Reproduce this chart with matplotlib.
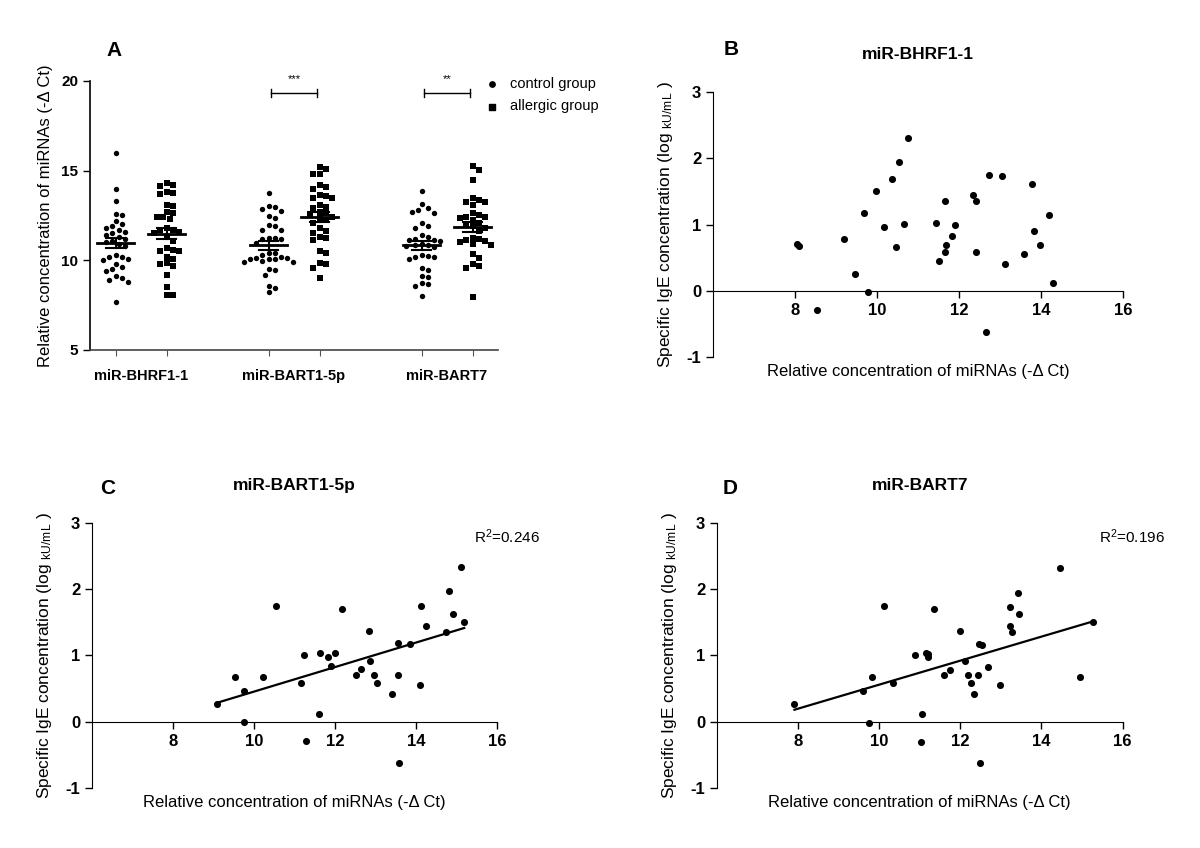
import numpy as np
import matplotlib
matplotlib.use('agg')
import matplotlib.pyplot as plt

plt.rcParams['font.family'] = ['Liberation Sans', 'DejaVu Sans']
plt.rcParams['mathtext.default'] = 'regular'
plt.rcParams['axes.unicode_minus'] = False

# ---- panel A: -dCt per group ----
groups = ['miR-BHRF1-1', 'miR-BART1-5p', 'miR-BART7']
ctrl_bhrf = [16.0, 14.0, 13.3, 12.6, 12.5, 12.2, 12.0, 11.9, 11.8, 11.7, 11.6, 11.5, 11.4, 11.3,
             11.2, 11.1, 11.0, 10.9, 10.8, 10.3, 10.2, 10.2, 10.1, 10.0, 9.8, 9.6, 9.5, 9.4,
             9.1, 9.0, 8.9, 8.8, 7.7]
allg_bhrf = [14.3, 14.2, 14.15, 13.8, 13.75, 13.7, 13.1, 13.05, 12.7, 12.65, 12.4, 12.4, 12.3,
             11.8, 11.7, 11.7, 11.6, 11.5, 11.3, 11.1, 10.7, 10.6, 10.5, 10.5, 10.2, 10.1,
             9.85, 9.8, 9.7, 9.2, 8.5, 8.05, 8.05]
ctrl_bart1 = [13.77, 12.99, 12.75, 12.88, 13.03, 12.47, 12.36, 11.91, 11.69, 11.71, 11.99, 11.26,
              11.17, 11.19, 11.22, 10.98, 10.43, 10.31, 10.43, 10.15, 10.09, 10.05, 10.15, 10.2,
              10.05, 9.91, 9.91, 9.94, 9.46, 9.49, 9.2, 8.59, 8.46, 8.21]
allg_bart1 = [15.19, 15.1, 14.82, 14.79, 14.18, 14.09, 14.0, 13.63, 13.57, 13.5, 13.45, 13.08,
              12.99, 12.9, 12.71, 12.62, 12.6, 12.44, 12.34, 12.25, 12.07, 11.79, 11.61, 11.52,
              11.3, 11.24, 11.15, 10.51, 10.42, 9.87, 9.77, 9.59, 9.04]
ctrl_bart7 = [13.87, 12.94, 13.12, 12.69, 12.66, 12.81, 12.06, 11.8, 11.93, 11.39, 11.32, 11.13,
              11.06, 11.13, 11.21, 10.8, 10.85, 10.76, 10.85, 10.89, 10.24, 10.17, 10.05, 10.3,
              10.17, 9.55, 9.46, 9.09, 9.14, 8.66, 8.57, 8.73, 8.01]
allg_bart7 = [15.28, 15.01, 14.46, 13.45, 13.35, 13.26, 13.23, 13.08, 12.62, 12.53, 12.44, 12.4,
              12.34, 12.25, 12.07, 11.98, 11.89, 11.79, 11.61, 11.24, 11.2, 11.15, 11.06, 11.0,
              10.9, 10.88, 10.33, 10.14, 9.77, 9.68, 9.55, 7.94]
sig_marks = ['', '***', '**']

# ---- panels B-D: -dCt vs log IgE ----
bhrf_x = [8.04, 8.10, 8.54, 9.20, 9.45, 9.67, 9.79, 9.98, 10.16, 10.36, 10.47, 10.54, 10.66, 10.75,
          11.43, 11.51, 11.65, 11.66, 11.67, 11.83, 11.89, 12.33, 12.41, 12.41, 12.65, 12.74,
          13.05, 13.11, 13.58, 13.78, 13.82, 13.98, 14.19, 14.29]
bhrf_y = [0.70, 0.67, -0.29, 0.78, 0.26, 1.18, -0.02, 1.50, 0.96, 1.69, 0.66, 1.95, 1.01, 2.31,
          1.02, 0.45, 1.35, 0.58, 0.69, 0.83, 1.00, 1.44, 1.36, 0.58, -0.63, 1.74,
          1.73, 0.41, 0.55, 1.61, 0.90, 0.69, 1.15, 0.11]
bart1_x = [9.08, 9.54, 9.76, 9.76, 10.21, 10.55, 11.17, 11.23, 11.29, 11.61, 11.63, 11.83, 11.89,
           12.00, 12.17, 12.51, 12.63, 12.83, 12.87, 12.96, 13.04, 13.40, 13.55, 13.55, 13.59,
           13.86, 14.09, 14.13, 14.24, 14.74, 14.81, 14.91, 15.12, 15.19]
bart1_y = [0.27, 0.67, 0.47, -0.01, 0.67, 1.75, 0.59, 1.01, -0.29, 0.12, 1.04, 0.97, 0.84,
           1.03, 1.70, 0.71, 0.79, 1.37, 0.91, 0.70, 0.59, 0.42, 0.70, 1.19, -0.62,
           1.17, 0.56, 1.75, 1.45, 1.36, 1.97, 1.63, 2.33, 1.51]
bart7_x = [7.91, 9.59, 9.75, 9.81, 10.12, 10.35, 10.88, 11.03, 11.06, 11.16, 11.19, 11.20, 11.36,
           11.59, 11.75, 12.00, 12.12, 12.18, 12.27, 12.33, 12.43, 12.46, 12.48, 12.54, 12.68,
           12.98, 13.23, 13.23, 13.27, 13.42, 13.44, 14.45, 14.96, 15.26]
bart7_y = [0.26, 0.46, -0.02, 0.67, 1.74, 0.58, 1.00, -0.30, 0.12, 1.03, 0.97, 1.02, 1.70,
           0.70, 0.78, 1.37, 0.91, 0.70, 0.58, 0.42, 0.70, 1.18, -0.63, 1.16, 0.83,
           0.55, 1.73, 1.45, 1.35, 1.95, 1.62, 2.32, 0.67, 1.50]
r2_text = {'C': '0.246', 'D': '0.196'}

xlab = 'Relative concentration of miRNAs (-\u0394 Ct)'
ylab_ige = 'Specific IgE concentration (log $_{kU/mL}$ )'


def swarm(vals, center, step=0.06, xpx=51.0, ypx=17.93, dmin=6.0):
    # greedy beeswarm: put each point at the nearest free offset
    vals = np.sort(np.asarray(vals))[::-1]
    placed = []
    xs = []
    cands = [0.0]
    for k in range(1, 12):
        cands += [k * step, -k * step]
    for v in vals:
        for c in cands:
            ok = True
            for (px, py) in placed:
                if np.hypot((c - px) * xpx, (v - py) * ypx) < dmin:
                    ok = False
                    break
            if ok:
                break
        placed.append((c, v))
        xs.append(center + c)
    return np.array(xs), vals


fig = plt.figure(figsize=(12, 8.48), dpi=100)

# ---------------- A ----------------
ax = fig.add_axes([0.075, 0.5873, 0.34, 0.3172])
data = [(ctrl_bhrf, allg_bhrf), (ctrl_bart1, allg_bart1), (ctrl_bart7, allg_bart7)]
for i, (c, a) in enumerate(data):
    for j, (vals, mk, sz) in enumerate([(c, 'o', 15), (a, 's', 20)]):
        pos = i * 3 + j
        xs, ys = swarm(vals, pos)
        ax.scatter(xs, ys, marker=mk, s=sz, color='black', linewidths=0, zorder=3)
        m = np.mean(vals)
        se = np.std(vals, ddof=1) / np.sqrt(len(vals))
        ax.plot([pos - 0.36, pos + 0.36], [m, m], color='black', lw=2, zorder=4)
        ax.plot([pos - 0.18, pos + 0.18], [m + se, m + se], color='black', lw=1.5, zorder=4)
        ax.plot([pos - 0.18, pos + 0.18], [m - se, m - se], color='black', lw=1.5, zorder=4)
        ax.plot([pos, pos], [m - se, m + se], color='black', lw=1.5, zorder=4)
    if sig_marks[i]:
        x0, x1 = i * 3 + 0.05, i * 3 + 0.95
        yb = 19.35
        ax.plot([x0, x1], [yb, yb], color='black', lw=1)
        ax.plot([x0, x0], [yb - 0.22, yb + 0.22], color='black', lw=1)
        ax.plot([x1, x1], [yb - 0.22, yb + 0.22], color='black', lw=1)
        ax.text((x0 + x1) / 2, yb + 0.45, sig_marks[i], ha='center', va='bottom', fontsize=8)

ax.set_xlim(-0.5, 7.5)
ax.set_ylim(5, 20)
ax.set_yticks([5, 10, 15, 20])
ax.set_xticks([0, 1, 3, 4, 6, 7])
ax.set_xticklabels([])
ax.set_xticks([0.5, 3.5, 6.5], minor=True)
ax.set_xticklabels(groups, minor=True, fontweight='bold', fontsize=10.5)
ax.tick_params(axis='x', which='minor', length=0, pad=14)
ax.tick_params(axis='x', which='major', length=4, width=0.8, color='#555555')
ax.tick_params(axis='y', length=5, width=1, labelsize=11)
for lab in ax.get_yticklabels():
    lab.set_fontweight('bold')
for s in ['top', 'right']:
    ax.spines[s].set_visible(False)
ax.spines['left'].set_linewidth(1.2)
ax.spines['bottom'].set_linewidth(1.2)
ax.spines['bottom'].set_color('#444444')
ax.set_ylabel('Relative concentration of miRNAs (-\u0394 Ct)', fontsize=12, labelpad=6)
ax.text(0.04, 1.115, 'A', transform=ax.transAxes, fontsize=15, fontweight='bold', va='center')

h1 = ax.scatter([], [], marker='o', s=15, color='black')
h2 = ax.scatter([], [], marker='s', s=20, color='black')
fig.legend([h1, h2], ['control group', 'allergic group'], loc='upper left',
           bbox_to_anchor=(0.392, 0.925), frameon=False, fontsize=10.5,
           handletextpad=0.6, handlelength=1.2, labelspacing=0.6)

# ---------------- B, C, D ----------------
panels = [
    ('B', 'miR-BHRF1-1', bhrf_x, bhrf_y, [0.5942, 0.579, 0.3417, 0.3125], False, 0.025, 1.16),
    ('C', 'miR-BART1-5p', bart1_x, bart1_y, [0.0767, 0.0708, 0.3375, 0.3125], True, 0.02, 1.13),
    ('D', 'miR-BART7', bart7_x, bart7_y, [0.5975, 0.0708, 0.338, 0.3125], True, 0.015, 1.13),
]
for letter, title, xv, yv, rect, fit, lx, ly in panels:
    ax = fig.add_axes(rect)
    ax.scatter(xv, yv, s=26, color='black', linewidths=0, zorder=3, clip_on=False)
    if fit:
        k, b = np.polyfit(xv, yv, 1)
        xx = np.array([min(xv), max(xv)])
        ax.plot(xx, k * xx + b, color='black', lw=1.6)
        ax.text(15.42, 2.8, 'R$^2$=' + r2_text[letter], fontsize=11, va='center', ha='left')
    ax.set_xlim(6, 16)
    ax.set_ylim(-1, 3)
    ax.set_xticks([8, 10, 12, 14, 16])
    ax.set_yticks([-1, 0, 1, 2, 3])
    ax.spines['bottom'].set_position(('data', 0))
    for s in ['top', 'right']:
        ax.spines[s].set_visible(False)
    ax.tick_params(length=5, width=1, labelsize=12)
    ax.tick_params(axis='x', pad=4)
    for lab in ax.get_xticklabels() + ax.get_yticklabels():
        lab.set_fontweight('bold')
    ax.set_ylabel(ylab_ige, fontsize=12.5, labelpad=8)
    ax.text(0.5, -0.025, xlab, transform=ax.transAxes, ha='center', va='top', fontsize=12)
    ax.text(0.5, 1.14, title, transform=ax.transAxes, ha='center', va='center',
            fontsize=12.5, fontweight='bold')
    ax.text(lx, ly, letter, transform=ax.transAxes, fontsize=15, fontweight='bold', va='center')

fig.savefig('out.png', dpi=100)
